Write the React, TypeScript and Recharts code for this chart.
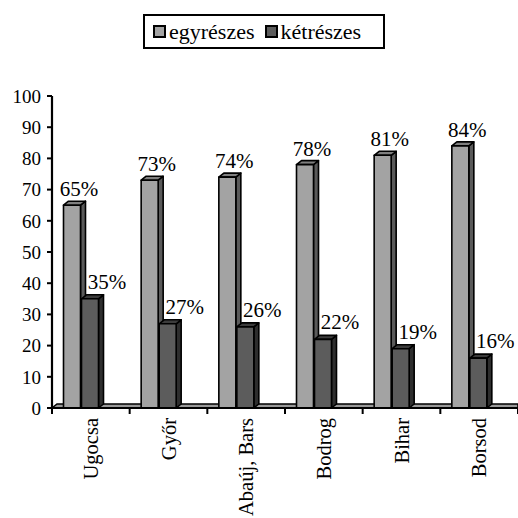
import React from 'react';
import { BarChart, Bar, XAxis, YAxis, Legend, LabelList, ReferenceArea } from 'recharts';

const categories = ['Ugocsa', 'Győr', 'Abaúj, Bars', 'Bodrog', 'Bihar', 'Borsod'];
const egyreszes = [65, 73, 74, 78, 81, 84];
const ketreszes = [35, 27, 26, 22, 19, 16];
const yTicks = [0, 10, 20, 30, 40, 50, 60, 70, 80, 90, 100];

const data = categories.map((name, i) => ({
  name,
  egy: egyreszes[i],
  ket: ketreszes[i],
}));

const FONT = "'Liberation Serif', 'Times New Roman', serif";
const DX = 5; // 3d depth
const DY = 4;
const SHIFT = -9.5; // excel puts the pair left of centre

const makeShape = (front: string, top: string, side: string) => (props: any) => {
  const { y, width, height } = props;
  const x = props.x + SHIFT;
  if (height == null || width == null) return null;
  const b = y + height;
  return (
    <g stroke="#000" strokeWidth={1.6} strokeLinejoin="round">
      <polygon fill={side} points={`${x + width},${y} ${x + width + DX},${y - DY} ${x + width + DX},${b - DY} ${x + width},${b}`} />
      <polygon fill={top} points={`${x},${y} ${x + DX},${y - DY} ${x + width + DX},${y - DY} ${x + width},${y}`} />
      <rect x={x} y={y} width={width} height={height} fill={front} />
    </g>
  );
};

const makeLabel = (off: number, lift: number) => (props: any) => {
  const { x, y, width, value } = props;
  return (
    <text x={x + SHIFT + width / 2 + off} y={y - lift} textAnchor="middle" style={{ fontFamily: FONT }} fontSize={21} fill="#000">
      {value}%
    </text>
  );
};

const Floor = (props: any) => {
  const { x, y, width, height } = props;
  const b = y + height;
  return (
    <polygon
      points={`${x},${b} ${x + DX},${b - DY} ${x + width},${b - DY} ${x + width},${b}`}
      fill="#999"
      stroke="#000"
      strokeWidth={1.6}
    />
  );
};

const CatTick = (props: any) => {
  const { x, y, payload } = props;
  const half = payload && payload.offset ? payload.offset : 466 / 12;
  const isLast = payload && payload.index === categories.length - 1;
  return (
    <g>
      <line x1={x - half} x2={x - half} y1={y - 10} y2={y - 4} stroke="#000" strokeWidth={2} />
      {isLast && <line x1={x + half} x2={x + half} y1={y - 10} y2={y - 4} stroke="#000" strokeWidth={2} />}
      <text
        x={x}
        y={y}
        transform={`rotate(-90 ${x} ${y})`}
        textAnchor="end"
        dy="0.35em"
        style={{ fontFamily: FONT }}
        fontSize={20.5}
        fill="#000"
      >
        {payload.value}
      </text>
    </g>
  );
};

const LegendBox = () => (
  <div
    style={{
      width: 230,
      height: 31,
      border: '2px solid #000',
      display: 'flex',
      alignItems: 'center',
      fontFamily: FONT,
      fontSize: 22,
      color: '#000',
      paddingLeft: 8,
      boxSizing: 'content-box',
    }}
  >
    <span style={{ width: 9, height: 9, border: '2px solid #000', background: '#a3a3a3', marginRight: 3 }} />
    <span style={{ marginRight: 10 }}>egyrészes</span>
    <span style={{ width: 9, height: 9, border: '2px solid #000', background: '#5c5c5c', marginRight: 3 }} />
    <span>kétrészes</span>
  </div>
);

export default function App() {
  return (
    <div style={{ position: 'absolute', left: 0, top: 0, width: 518, height: 518, background: '#fff', fontFamily: FONT }}>
      <BarChart
        width={518}
        height={518}
        data={data}
        margin={{ top: 96, right: 0, bottom: 0, left: 0 }}
        barSize={17}
        barGap={1}
        style={{ fontFamily: FONT }}
      >
        <ReferenceArea y1={0} y2={1} shape={<Floor />} ifOverflow="visible" />
        <XAxis
          dataKey="name"
          height={110}
          tickLine={false}
          tickSize={6}
          tickMargin={4}
          axisLine={{ stroke: '#000', strokeWidth: 2.2 }}
          tick={<CatTick />}
          interval={0}
        />
        <YAxis
          width={52}
          domain={[0, 100]}
          ticks={yTicks}
          interval={0}
          tickSize={5}
          tickMargin={6}
          axisLine={{ stroke: '#000', strokeWidth: 2.2 }}
          tickLine={{ stroke: '#000', strokeWidth: 2 }}
          tick={{ fill: '#000', fontSize: 19, style: { fontFamily: FONT } }}
        />
        <Legend
          verticalAlign="middle"
          align="center"
          content={<LegendBox />}
          wrapperStyle={{ top: 14, left: 143, width: 244 }}
        />
        <Bar dataKey="egy" name="egyrészes" shape={makeShape('#a3a3a3', '#7f7f7f', '#5a5a5a')} isAnimationActive={false}>
          <LabelList dataKey="egy" content={makeLabel(7, 9)} />
        </Bar>
        <Bar dataKey="ket" name="kétrészes" shape={makeShape('#5c5c5c', '#3c3c3c', '#2e2e2e')} isAnimationActive={false}>
          <LabelList dataKey="ket" content={makeLabel(17, 10)} />
        </Bar>
      </BarChart>
    </div>
  );
}
